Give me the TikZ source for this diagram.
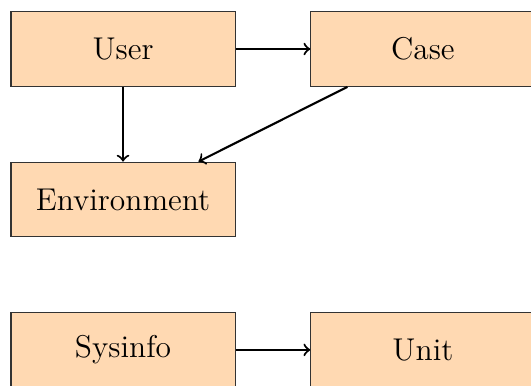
\documentclass[tikz,border=0pt]{standalone}
\usepackage{tikz}
\usetikzlibrary{positioning}

\begin{document}
\begin{tikzpicture}[block/.style={rectangle,draw=black!80,fill=orange!30,minimum width=3cm,minimum height=1cm,font=\large},
                    link/.style={->,thick}]
        \useasboundingbox (-1.647,0.656) rectangle (5.461,-4.498);
        \node[block] (user) {User};
        \node[block] (case) [right=1cm of user] {Case};
        \node[block] (env) [below=1cm of user] {Environment};
        \node[block] (sysinfo) [below=1cm of env] {Sysinfo};
        \node[block] (unit) [right=1cm of sysinfo] {Unit};

        \draw[link](user) -- (case);
        \draw[link](user) -- (env);
        \draw[link](case) -- (env);
        \draw[link](sysinfo) -- (unit);
    \end{tikzpicture}
\end{document}
